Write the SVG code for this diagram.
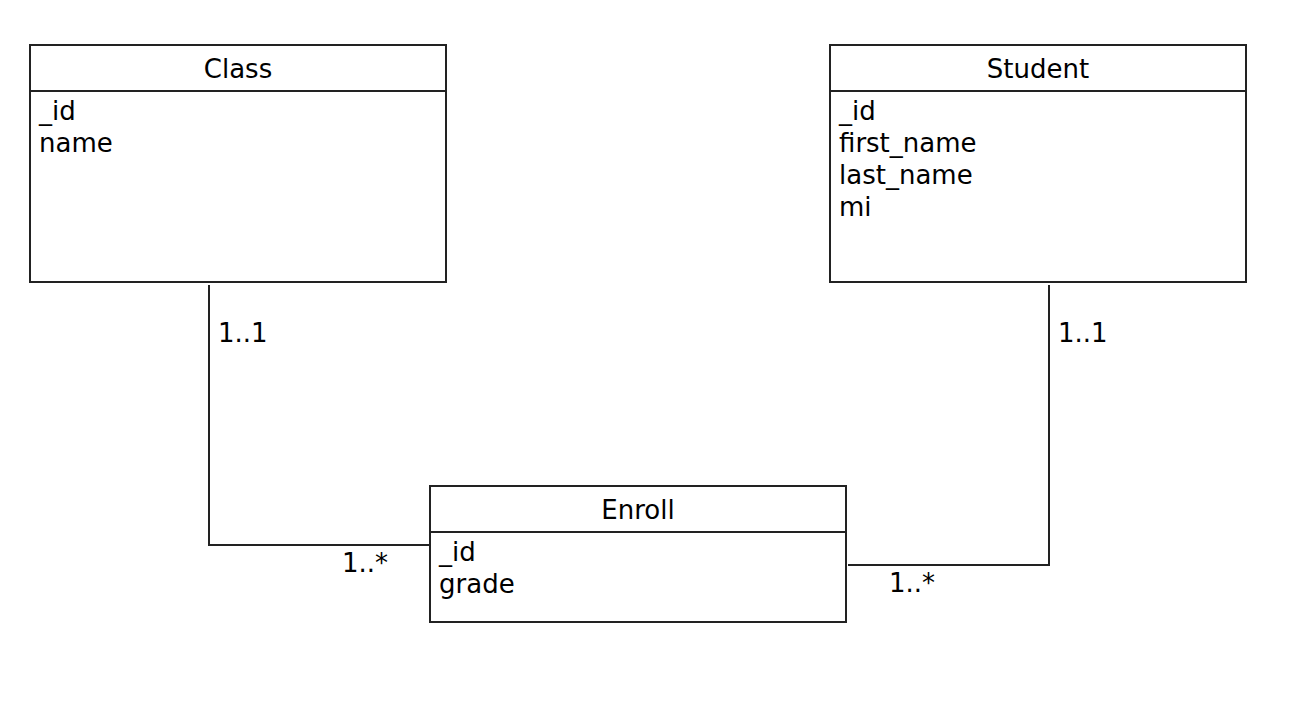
<svg xmlns="http://www.w3.org/2000/svg" width="1300" height="710" viewBox="0 0 1300 710">
<style>
.box{fill:#fff;stroke:#222;stroke-width:2}
.div{stroke:#222;stroke-width:2}
.con{fill:none;stroke:#222;stroke-width:2}
text{font-family:"DejaVu Sans",Verdana,sans-serif;font-size:26px;fill:#000}
.t{text-anchor:middle}
</style>
<rect width="1300" height="710" fill="#fff"/>
<g id="connectors">
<polyline class="con" points="209,285 209,545 430,545"/>
<polyline class="con" points="1049,285 1049,565 848,565"/>
<text x="218" y="342">1..1</text>
<text x="342" y="572">1..*</text>
<text x="1058" y="342">1..1</text>
<text x="889" y="592">1..*</text>
</g>
<g id="class">
<rect class="box" x="30" y="45" width="416" height="237"/>
<line class="div" x1="30" y1="91" x2="446" y2="91"/>
<text class="t" x="238" y="78">Class</text>
<text x="39" y="120">_id</text>
<text x="39" y="152">name</text>
</g>
<g id="student">
<rect class="box" x="830" y="45" width="416" height="237"/>
<line class="div" x1="830" y1="91" x2="1246" y2="91"/>
<text class="t" x="1038" y="78">Student</text>
<text x="839" y="120">_id</text>
<text x="839" y="152">first_name</text>
<text x="839" y="184">last_name</text>
<text x="839" y="216">mi</text>
</g>
<g id="enroll">
<rect class="box" x="430" y="486" width="416" height="136"/>
<line class="div" x1="430" y1="532" x2="846" y2="532"/>
<text class="t" x="638" y="519">Enroll</text>
<text x="439" y="561">_id</text>
<text x="439" y="593">grade</text>
</g>
</svg>
